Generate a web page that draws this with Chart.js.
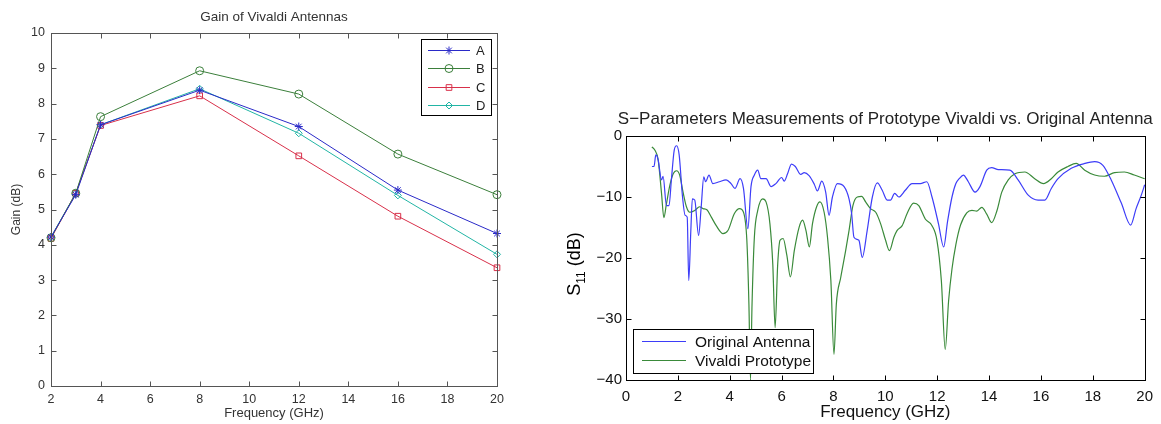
<!DOCTYPE html>
<html>
<head>
<meta charset="utf-8">
<script src="https://cdn.jsdelivr.net/npm/chart.js@4.4.1/dist/chart.umd.min.js"></script>
<style>
  body { margin: 0; background: #fff; width: 1161px; height: 424px; overflow: hidden; position: relative; }
  canvas { position: absolute; }
  #gain { left: 0; top: 0; }
  #sparam { left: 545px; top: 100px; }
</style>
</head>
<body>
<canvas id="gain" width="520" height="424"></canvas>
<canvas id="sparam" width="616" height="324"></canvas>
<script>
// --- gain chart data ---
const gainFreqs = [2, 3, 4, 8, 12, 16, 20];
const gainA = [4.22, 5.42, 7.40, 8.38, 7.35, 5.55, 4.32];
const gainB = [4.20, 5.46, 7.63, 8.93, 8.27, 6.57, 5.42];
const gainC = [4.18, 5.46, 7.38, 8.22, 6.52, 4.81, 3.35];
const gainD = [4.22, 5.46, 7.40, 8.42, 7.16, 5.40, 3.73];
const gainNames = ['A', 'B', 'C', 'D'];
const gainXTicks = [2, 4, 6, 8, 10, 12, 14, 16, 18, 20];
const gainYTicks = [0, 1, 2, 3, 4, 5, 6, 7, 8, 9, 10];

// --- S11 chart data ---
const origFreq = [1.0, 1.08, 1.15, 1.24, 1.37, 1.43, 1.56, 1.66, 1.75, 1.86, 1.95, 2.05, 2.18, 2.28, 2.36, 2.42, 2.5, 2.56, 2.65, 2.8,
  2.9, 3.0, 3.07, 3.2, 3.35, 3.6, 3.86, 4.05, 4.2, 4.4, 4.53, 4.7, 4.82, 4.95, 5.08, 5.2, 5.4, 5.6, 5.78, 6.0,
  6.1, 6.23, 6.38, 6.53, 6.74, 6.87, 7.06, 7.26, 7.38, 7.55, 7.7, 7.83, 7.96, 8.15, 8.41, 8.6, 8.7, 8.79, 8.98, 9.11,
  9.3, 9.5, 9.69, 9.88, 10.07, 10.2, 10.36, 10.52, 10.77, 11.03, 11.35, 11.6, 11.8, 12.05, 12.25, 12.4, 12.57, 12.72, 12.85, 13.01,
  13.2, 13.46, 13.65, 13.91, 14.1, 14.36, 14.8, 15.12, 15.51, 15.89, 16.15, 16.4, 16.66, 17.17, 17.69, 18.07, 18.39, 18.71, 19.1, 19.46,
  19.67, 19.87, 20.0];
const origS11 = [-5.0, -5.0, -3.1, -3.9, -7.2, -6.6, -11.4, -11.4, -7.2, -2.3, -1.6, -3.1, -10.0, -13.0, -13.3, -23.7, -15.5, -10.3, -10.5, -16.3,
  -11.6, -6.7, -7.5, -6.4, -7.8, -7.5, -7.2, -7.8, -8.6, -7.0, -8.6, -15.2, -8.3, -6.4, -5.6, -7.0, -7.0, -8.3, -7.8, -6.8,
  -7.4, -6.2, -4.6, -5.0, -6.3, -6.0, -6.5, -7.9, -9.0, -7.4, -9.2, -13.0, -10.0, -7.8, -8.3, -10.3, -12.7, -16.6, -17.1, -19.9,
  -15.5, -10.0, -7.7, -8.9, -10.5, -10.5, -9.4, -10.0, -8.9, -7.8, -7.8, -7.5, -10.0, -14.4, -18.2, -14.0, -10.0, -7.8, -7.0, -6.4,
  -7.5, -9.2, -8.3, -5.6, -5.2, -5.5, -5.6, -7.2, -9.7, -10.5, -10.5, -8.6, -7.0, -5.3, -4.5, -4.2, -4.8, -7.2, -11.0, -14.6,
  -11.9, -9.7, -8.0];

const protoFreq = [1.0, 1.11, 1.24, 1.37, 1.46, 1.56, 1.69, 1.82, 1.95, 2.07, 2.2, 2.33, 2.46, 2.65, 2.84, 2.97, 3.12, 3.29, 3.48, 3.74,
  3.93, 4.18, 4.38, 4.53, 4.66, 4.74, 4.8, 4.86, 4.95, 5.08, 5.27, 5.4, 5.55, 5.66, 5.75, 5.85, 5.94, 6.06, 6.2, 6.34,
  6.49, 6.68, 6.81, 6.94, 7.07, 7.19, 7.35, 7.48, 7.64, 7.77, 7.9, 8.02, 8.11, 8.28, 8.47, 8.6, 8.75, 8.92, 9.09, 9.24,
  9.43, 9.63, 9.82, 10.01, 10.16, 10.33, 10.45, 10.65, 10.84, 11.09, 11.29, 11.54, 11.8, 11.99, 12.16, 12.31, 12.44, 12.57, 12.72, 12.9,
  13.14, 13.34, 13.53, 13.72, 13.91, 14.1, 14.3, 14.49, 14.74, 15.0, 15.38, 15.76, 16.1, 16.4, 16.66, 17.04, 17.36, 17.69, 18.07, 18.45,
  18.84, 19.22, 19.6, 20.0];
const protoS11 = [-1.8, -2.3, -3.9, -9.4, -13.4, -11.1, -8.1, -6.2, -5.7, -6.4, -9.2, -11.6, -12.5, -12.2, -11.6, -11.9, -12.1, -13.3, -14.7, -16.0,
  -15.5, -12.7, -11.9, -12.5, -17.1, -27.6, -40.0, -27.6, -16.6, -12.2, -10.3, -10.8, -14.4, -21.0, -31.4, -21.0, -17.1, -16.8, -19.5, -23.1,
  -18.8, -14.9, -13.8, -15.5, -18.2, -14.4, -11.6, -10.8, -12.5, -16.6, -23.7, -35.8, -27.6, -23.2, -18.8, -15.5, -11.4, -10.0, -9.9, -10.8,
  -11.9, -12.5, -14.4, -17.1, -18.8, -16.6, -15.5, -14.7, -12.7, -11.0, -11.4, -13.6, -14.7, -17.1, -23.7, -35.0, -27.0, -21.8, -17.8, -14.6,
  -12.6, -12.2, -12.3, -11.7, -12.8, -14.2, -12.3, -9.2, -7.2, -6.2, -5.9, -7.0, -7.8, -7.0, -5.9, -5.0, -4.5, -5.6, -6.4, -6.6,
  -6.0, -5.9, -6.4, -7.0];
const sparamNames = ['Original Antenna', 'Vivaldi Prototype'];
const sparamXTicks = [0, 2, 4, 6, 8, 10, 12, 14, 16, 18, 20];
const sparamYTicks = [-40, -30, -20, -10, 0];

const FONT = '"Liberation Sans", Arial, Helvetica, sans-serif';

// box around the plot with inward ticks on all four sides (matlab look)
const boxPlugin = {
  id: 'boxAxes',
  afterDatasetsDraw(chart, args, opts) {
    const { ctx, chartArea: a, scales: { x, y } } = chart;
    const L = Math.round(a.left) + 0.5, R = Math.round(a.right) + 0.5;
    const T = Math.round(a.top) + 0.5, B = Math.round(a.bottom) + 0.5;
    ctx.save();
    ctx.strokeStyle = opts.color;
    ctx.lineWidth = opts.width;
    ctx.beginPath();
    x.ticks.forEach(t => {
      const px = Math.round(x.getPixelForValue(t.value)) + 0.5;
      ctx.moveTo(px, B); ctx.lineTo(px, B - opts.len);
      ctx.moveTo(px, T); ctx.lineTo(px, T + opts.len);
    });
    y.ticks.forEach(t => {
      const py = Math.round(y.getPixelForValue(t.value)) + 0.5;
      ctx.moveTo(L, py); ctx.lineTo(L + opts.len, py);
      ctx.moveTo(R, py); ctx.lineTo(R - opts.len, py);
    });
    ctx.stroke();
    ctx.strokeRect(L, T, R - L, B - T);
    ctx.restore();
  }
};

// legend drawn inside the axes, like the original figures
const innerLegend = {
  id: 'innerLegend',
  afterDraw(chart, args, o) {
    const { ctx, chartArea: a } = chart;
    const sets = chart.data.datasets;
    const x0 = o.right != null ? a.right - o.right - o.w : a.left + o.left;
    const y0 = o.top != null ? a.top + o.top : a.bottom - o.bottom - o.h;
    ctx.save();
    ctx.fillStyle = '#fff';
    ctx.fillRect(x0, y0, o.w, o.h);
    ctx.strokeStyle = '#000';
    ctx.lineWidth = 1;
    ctx.strokeRect(Math.round(x0) + 0.5, Math.round(y0) + 0.5, o.w, o.h);
    ctx.font = o.font;
    ctx.textBaseline = 'middle';
    sets.forEach((ds, i) => {
      const cy = Math.round(y0 + o.padY + o.rowH * (i + 0.5)) + 0.5;
      ctx.strokeStyle = ds.borderColor;
      ctx.lineWidth = ds.borderWidth;
      ctx.beginPath();
      ctx.moveTo(x0 + o.lineX0, cy);
      ctx.lineTo(x0 + o.lineX1, cy);
      ctx.stroke();
      if (ds.pointStyle) {
        ctx.fillStyle = 'rgba(0,0,0,0)';
        ctx.lineWidth = 1;
        Chart.helpers.drawPoint(ctx, {
          pointStyle: ds.pointStyle, radius: ds.pointRadius, borderWidth: 1, rotation: 0
        }, x0 + (o.lineX0 + o.lineX1) / 2, cy);
      }
      ctx.fillStyle = o.textColor;
      ctx.fillText(ds.label, x0 + o.textX, cy + 1);
    });
    ctx.restore();
  }
};

// y title with subscript for the S11 chart
const subTitle = {
  id: 'subTitle',
  afterDraw(chart, args, o) {
    const { ctx, chartArea: a } = chart;
    ctx.save();
    ctx.translate(o.x, (a.top + a.bottom) / 2 + o.dy);
    ctx.rotate(-Math.PI / 2);
    ctx.fillStyle = '#000';
    ctx.textBaseline = 'alphabetic';
    const big = `18px ${FONT}`, small = `12px ${FONT}`;
    ctx.font = big; const w1 = ctx.measureText(o.main).width;
    ctx.font = small; const w2 = ctx.measureText(o.sub).width;
    ctx.font = big; const w3 = ctx.measureText(o.rest).width;
    let cx = -(w1 + w2 + w3) / 2;
    ctx.font = big; ctx.fillText(o.main, cx, 0); cx += w1;
    ctx.font = small; ctx.fillText(o.sub, cx, 5); cx += w2;
    ctx.font = big; ctx.fillText(o.rest, cx, 0);
    ctx.restore();
  }
};

const plotTitle = {
  id: 'plotTitle',
  afterDraw(chart, args, o) {
    const { ctx, chartArea: a } = chart;
    ctx.save();
    ctx.font = o.font;
    ctx.fillStyle = o.color;
    ctx.textAlign = 'center';
    ctx.textBaseline = 'middle';
    ctx.fillText(o.text, (a.left + a.right) / 2, o.y);
    ctx.restore();
  }
};

const fixedTicks = (list) => (scale) => { scale.ticks = list.map(v => ({ value: v })); };

const gainSeries = (label, data, color, style, radius) => ({
  label,
  data,
  borderColor: color,
  backgroundColor: 'transparent',
  borderWidth: 1,
  pointStyle: style,
  pointRadius: radius,
  pointBorderColor: color,
  pointBackgroundColor: 'transparent',
  pointBorderWidth: 1,
  clip: false
});

new Chart(document.getElementById('gain'), {
  type: 'line',
  data: {
    labels: gainFreqs,
    datasets: [
      gainSeries(gainNames[0], gainFreqs.map((f, i) => ({ x: f, y: gainA[i] })), '#2a2ac8', 'star', 4),
      gainSeries(gainNames[1], gainFreqs.map((f, i) => ({ x: f, y: gainB[i] })), '#3b7f3b', 'circle', 4),
      gainSeries(gainNames[2], gainFreqs.map((f, i) => ({ x: f, y: gainC[i] })), '#d8304a', 'rect', 4),
      gainSeries(gainNames[3], gainFreqs.map((f, i) => ({ x: f, y: gainD[i] })), '#22b5a5', 'rectRot', 3.5)
    ]
  },
  options: {
    responsive: false,
    animation: false,
    layout: { padding: { left: 0, right: 23, top: 33, bottom: 0 } },
    plugins: {
      legend: { display: false },
      tooltip: { enabled: false },
      boxAxes: { color: '#555', width: 1, len: 5 },
      innerLegend: {
        right: 6, top: 6, w: 70, h: 76, padY: 2, rowH: 18.3,
        lineX0: 7, lineX1: 49, textX: 55, font: `13px ${FONT}`, textColor: '#222'
      },
      plotTitle: { text: 'Gain of Vivaldi Antennas', y: 17, font: `13.5px ${FONT}`, color: '#333' }
    },
    scales: {
      x: {
        type: 'linear', min: 2, max: 20,
        afterBuildTicks: fixedTicks(gainXTicks),
        afterFit: s => { s.height = 38; },
        grid: { display: false, drawTicks: false },
        border: { display: false },
        ticks: { padding: 6, color: '#333', font: { family: FONT, size: 12.5 } },
        title: { display: true, text: 'Frequency (GHz)', color: '#333', padding: { top: 0, bottom: 3 }, font: { family: FONT, size: 13 } }
      },
      y: {
        type: 'linear', min: 0, max: 10,
        afterBuildTicks: fixedTicks(gainYTicks),
        afterFit: s => { s.width = 51; },
        grid: { display: false, drawTicks: false },
        border: { display: false },
        ticks: { padding: 6, color: '#333', font: { family: FONT, size: 12.5 } },
        title: { display: true, text: 'Gain (dB)', color: '#333', padding: { top: 9, bottom: 0 }, font: { family: FONT, size: 12 } }
      }
    }
  },
  plugins: [boxPlugin, innerLegend, plotTitle]
});

const traceSeries = (label, xs, ys, color) => ({
  label,
  data: xs.map((f, i) => ({ x: f, y: ys[i] })),
  borderColor: color,
  borderWidth: 1.2,
  pointRadius: 0,
  cubicInterpolationMode: 'monotone',
  clip: 2
});

new Chart(document.getElementById('sparam'), {
  type: 'line',
  data: {
    datasets: [
      traceSeries(sparamNames[0], origFreq, origS11, '#3d3df8'),
      traceSeries(sparamNames[1], protoFreq, protoS11, '#3a8a3a')
    ]
  },
  options: {
    responsive: false,
    animation: false,
    layout: { padding: { left: 0, right: 14, top: 36, bottom: 0 } },
    plugins: {
      legend: { display: false },
      tooltip: { enabled: false },
      boxAxes: { color: '#000', width: 1, len: 5 },
      innerLegend: {
        left: 7, bottom: 7, w: 180, h: 44, padY: 3, rowH: 18.5,
        lineX0: 9, lineX1: 53, textX: 62, font: `15.5px ${FONT}`, textColor: '#111'
      },
      subTitle: { x: 35, dy: 6, main: 'S', sub: '11', rest: ' (dB)' },
      plotTitle: { text: 'S\u2212Parameters Measurements of Prototype Vivaldi vs. Original Antenna', y: 19, font: `17px ${FONT}`, color: '#222' }
    },
    scales: {
      x: {
        type: 'linear', min: 0, max: 20,
        afterBuildTicks: fixedTicks(sparamXTicks),
        afterFit: s => { s.height = 44; },
        grid: { display: false, drawTicks: false },
        border: { display: false },
        ticks: { padding: 8, color: '#111', font: { family: FONT, size: 15 } },
        title: { display: true, text: 'Frequency (GHz)', color: '#111', padding: { top: 0, bottom: 1 }, font: { family: FONT, size: 17 } }
      },
      y: {
        type: 'linear', min: -40, max: 0,
        afterBuildTicks: fixedTicks(sparamYTicks),
        afterFit: s => { s.width = 81; },
        grid: { display: false, drawTicks: false },
        border: { display: false },
        ticks: {
          padding: 4, color: '#111', font: { family: FONT, size: 15 },
          callback: v => String(v).replace('-', '\u2212')
        }
      }
    }
  },
  plugins: [boxPlugin, innerLegend, subTitle, plotTitle]
});
</script>
</body>
</html>
